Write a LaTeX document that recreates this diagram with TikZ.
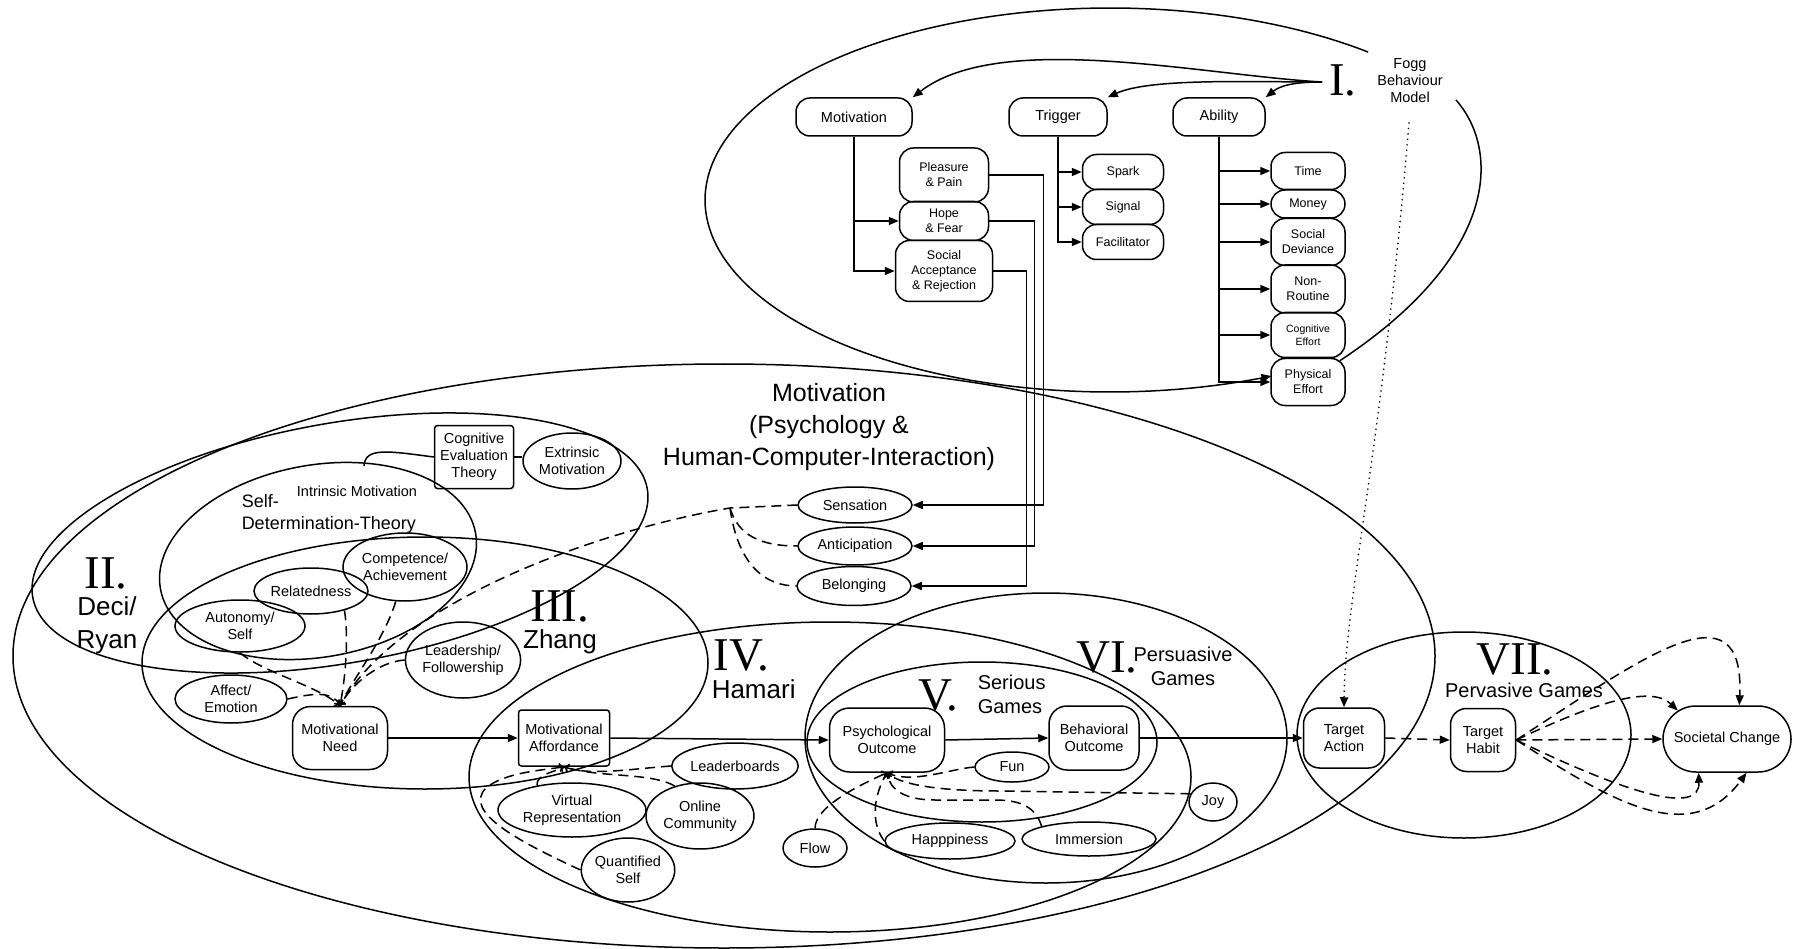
\documentclass[tikz,border=0pt]{standalone}
\usepackage{fontspec}
\setmainfont{Liberation Sans}
\newfontfamily\dgserif{Liberation Serif}
\usetikzlibrary{arrows.meta,shapes.geometric,shapes.misc,calc}
\newcommand\dgnode{\fontsize{14.5}{17}\selectfont}
\newcommand\dgsub{\fontsize{12.5}{15}\selectfont}
\newcommand\dgsmall{\fontsize{10.5}{13}\selectfont}
\newcommand\dglabel{\fontsize{20}{24}\selectfont}
\newcommand\dgmid{\fontsize{18}{22}\selectfont}
\newcommand\dghead{\fontsize{26}{33}\selectfont}
\newcommand\dgtitle{\fontsize{25}{32}\selectfont}
\newcommand\dgnum{\dgserif\fontsize{47}{47}\selectfont}
\begin{document}
\begin{tikzpicture}[x=1pt,y=-1pt,line width=1.5pt,
  fbox/.style={draw,rounded corners=14pt,align=center,inner sep=0pt,font=\dgnode},
  sbox/.style={fbox,font=\dgsub},
  rbox/.style={draw,rounded corners=3pt,align=center,inner sep=0pt,font=\dgnode},
  oval/.style={draw,ellipse,align=center,inner sep=0pt,font=\dgnode},
  numeral/.style={inner sep=0pt,font=\dgnum},
  lbl/.style={inner sep=0pt,align=center},
  arr/.style={-{Triangle[length=10pt,width=8pt]}},
  rarr/.style={{Triangle[length=10pt,width=8pt]}-},
  dline/.style={dash pattern=on 10pt off 6pt},
  dtip/.style={-{To[length=5pt,width=9pt]}},
  dotline/.style={line width=1.8pt,line cap=round,dash pattern=on 0pt off 5.5pt},
]
\useasboundingbox (0,0) rectangle (1793,949);

% ---------- region outlines ----------
\draw (724,656) ellipse [x radius=711pt, y radius=292pt];
\draw[rotate around={10:(340,543)}] (340,543) ellipse [x radius=312pt, y radius=120pt];
\draw[rotate around={10:(318,561)}] (318,561) ellipse [x radius=160pt, y radius=96pt];
\draw (425,663) ellipse [x radius=283pt, y radius=126pt];
\draw (830,777) ellipse [x radius=361pt, y radius=155pt];
\draw (982,742) ellipse [x radius=175pt, y radius=80pt];
\draw (1046,738) ellipse [x radius=241pt, y radius=145pt];
\draw (1464,735) ellipse [x radius=167pt, y radius=103pt];

% ---------- I. Fogg behaviour model ----------
\node[numeral] (n1) at (1343,80) {I.};
\node[lbl,font=\dgnode,anchor=north] (fbm) at (1410,58) {Fogg\\Behaviour\\Model};
\coordinate (fogsrc) at (1322,82);
\node[fbox,minimum width=116pt,minimum height=38pt] (motF) at (854,117) {Motivation};
\node[fbox,minimum width=98pt,minimum height=38pt] (trig) at (1058,117) {Trigger};
\node[fbox,minimum width=92pt,minimum height=38pt] (abil) at (1219,117) {Ability};
\node[sbox,minimum width=89pt,minimum height=54pt] (pleas) at (944,175) {Pleasure\\\& Pain};
\node[sbox,minimum width=89pt,minimum height=39pt] (hope) at (944,221) {Hope\\\& Fear};
\node[sbox,minimum width=97pt,minimum height=61pt] (socacc) at (944,271) {Social\\Acceptance\\\& Rejection};
\node[sbox,minimum width=81pt,minimum height=35pt] (spark) at (1123,172) {Spark};
\node[sbox,minimum width=81pt,minimum height=35pt] (signal) at (1123,207) {Signal};
\node[sbox,minimum width=81pt,minimum height=35pt] (facil) at (1123,242) {Facilitator};
\node[sbox,minimum width=74pt,minimum height=37pt] (time) at (1308,171) {Time};
\node[sbox,minimum width=74pt,minimum height=28pt] (money) at (1308,204) {Money};
\node[sbox,minimum width=74pt,minimum height=47pt] (sdev) at (1308,242) {Social\\Deviance};
\node[sbox,minimum width=74pt,minimum height=48pt] (nonrt) at (1308,289) {Non-\\Routine};
\node[sbox,minimum width=74pt,minimum height=45pt,font=\dgsmall] (cogeff) at (1308,335) {Cognitive\\Effort};
\node[sbox,minimum width=74pt,minimum height=47pt] (physeff) at (1308,382) {Physical\\Effort};

% Fogg outline: open at the top right, both ends running into Physical Effort
\draw[rarr] plot[domain=66.5:309.6,samples=140] ({1110+405*cos(\x)},{200+192*sin(\x)});
\coordinate (foggap) at (1456,100);
\draw (foggap) .. controls (1500,150) and (1500,255) .. ($(physeff.north east)+(-6,3)$);

\draw[arr] (fogsrc) .. controls (1200,75) and (1000,30) .. (motF.north east);
\draw[arr] (fogsrc) .. controls (1250,82) and (1150,78) .. (trig.north east);
\draw[arr] (fogsrc) .. controls (1292,82) and (1280,86) .. (abil.north east);
\draw[arr] (motF.south) |- (hope.west);
\draw[arr] (motF.south) |- (socacc.west);
\foreach \nm in {spark,signal,facil} \draw[arr] (trig.south) |- (\nm.west);
\foreach \nm in {time,money,sdev,nonrt,cogeff,physeff} \draw[arr] (abil.south) |- (\nm.west);

% ---------- Motivation (Psychology & HCI) ----------
\node[lbl,font=\dgtitle,anchor=north] (mottitle) at (829,383) {Motivation\\(Psychology \&\\Human-Computer-Interaction)};
\node[oval,minimum width=114pt,minimum height=36pt] (sens) at (855,505) {Sensation};
\node[oval,minimum width=114pt,minimum height=38pt] (antic) at (855,546) {Anticipation};
\node[oval,minimum width=114pt,minimum height=39pt] (belong) at (854,586) {Belonging};
\draw[arr] (pleas.east) -- ++(54,0) |- (sens.east);
\draw[arr] (hope.east) -- ++(45,0) |- (antic.east);
\draw[arr] (socacc.east) -- ++(33,0) |- (belong.east);

% ---------- II. Deci/Ryan and III. Zhang ----------
\node[numeral] (n2) at (106,573) {II.};
\node[lbl,font=\dghead] (decilbl) at (107,625) {Deci/\\Ryan};
\node[lbl,font=\dgmid,align=left,anchor=north west] (sdtlbl) at (241,494) {Self-\\Determination-Theory};
\node[lbl,font=\dgnode] (intrlbl) at (357,491) {Intrinsic Motivation};
\node[rbox,minimum width=79pt,minimum height=63pt] (cet) at (474,457) {Cognitive\\Evaluation\\Theory};
\node[oval,minimum width=98pt,minimum height=56pt] (ext) at (572,461) {Extrinsic\\Motivation};
\coordinate (sdttop) at (364,466);
\draw (cet.east) -- (cet.east -| ext.west);
\draw (cet.west) .. controls (388,451) and (365,447) .. (sdttop);
\node[oval,minimum width=124pt,minimum height=68pt] (comp) at (405,567) {Competence/\\Achievement};
\node[oval,minimum width=108pt,minimum height=46pt] (rel) at (311,591) {Relatedness};
\node[oval,minimum width=130pt,minimum height=52pt] (auto) at (240,626) {Autonomy/\\Self};
\node[oval,minimum width=112pt,minimum height=48pt] (affect) at (231,699) {Affect/\\Emotion};
\node[oval,minimum width=110pt,minimum height=76pt] (lead) at (463,660) {Leadership/\\Followership};
\node[numeral] (n3) at (560,606) {III.};
\node[lbl,font=\dghead] (zhang) at (560,642) {Zhang};
\node[fbox,rounded corners=18pt,minimum width=95pt,minimum height=63pt] (mneed) at (340,738) {Motivational\\Need};

\draw[dline,dtip] (auto.south) .. controls (262,672) and (318,686) .. (mneed.north);
\draw[dline,dtip] (affect.east) .. controls (310,694) and (332,690) .. (mneed.north);
\draw[dline,dtip] (rel.-30) .. controls (349,640) and (345,680) .. (mneed.north);
\draw[dline,dtip] (comp.-105) .. controls (384,640) and (352,680) .. (mneed.north);
\draw[dline,dtip] (lead.west) .. controls (378,662) and (352,684) .. (mneed.north);
\coordinate (sensfork) at (730,508);
\draw[dline,dtip] (sens.west) -- (sensfork) .. controls (600,530) and (400,600) .. (mneed.north);
\draw[dline] (sensfork) .. controls (738,535) and (760,546) .. (antic.west);
\draw[dline] (sensfork) .. controls (738,565) and (765,586) .. (belong.west);

% ---------- IV. Hamari ----------
\node[numeral,anchor=west] (n4) at (713,655) {IV.};
\node[lbl,font=\dghead,anchor=west] (hamari) at (711,689) {Hamari};
\node[rbox,minimum width=91pt,minimum height=56pt] (maff) at (564,738) {Motivational\\Affordance};
\node[oval,minimum width=124pt,minimum height=46pt] (lboard) at (735,766) {Leaderboards};
\node[oval,minimum width=148pt,minimum height=54pt] (vrep) at (572,810) {Virtual\\Representation};
\node[oval,minimum width=108pt,minimum height=66pt] (ocomm) at (700,816) {Online\\Community};
\node[oval,minimum width=92pt,minimum height=64pt] (qself) at (628,870) {Quantified\\Self};
\draw[arr] (mneed.east) -- (maff.west);
\draw[dline,dtip] (lboard.west) .. controls (630,769) and (590,776) .. (maff.south);
\draw[dline,dtip] (ocomm.130) .. controls (650,772) and (600,778) .. (maff.south);
\draw[dline,dtip] (vrep.145) .. controls (536,774) and (555,772) .. (maff.south);
\draw[dline,dtip] (qself.west) .. controls (520,842) and (462,812) .. (486,788) .. controls (505,772) and (545,770) .. (maff.south);

% ---------- V. Serious Games / VI. Persuasive Games ----------
\node[fbox,rounded corners=20pt,minimum width=115pt,minimum height=64pt] (psyout) at (887,740) {Psychological\\Outcome};
\node[fbox,rounded corners=18pt,minimum width=90pt,minimum height=64pt] (behout) at (1094,738) {Behavioral\\Outcome};
\draw[arr] (maff.east) -- (psyout.west);
\draw[arr] (psyout.east) -- (behout.west);
\node[numeral] (n5) at (938,695) {V.};
\node[lbl,font=\dglabel,align=left,anchor=north west] (serlbl) at (977,674) {Serious\\Games};
\node[numeral] (n6) at (1107,657) {VI.};
\node[lbl,font=\dglabel,anchor=north] (perslbl) at (1183,646) {Persuasive\\Games};
\node[oval,minimum width=74pt,minimum height=30pt] (fun) at (1012,767) {Fun};
\node[oval,minimum width=48pt,minimum height=38pt] (joy) at (1213,802) {Joy};
\node[oval,minimum width=64pt,minimum height=38pt] (flow) at (815,848) {Flow};
\node[oval,minimum width=130pt,minimum height=36pt] (happy) at (950,841) {Happpiness};
\node[oval,minimum width=134pt,minimum height=34pt] (immer) at (1089,839) {Immersion};
\draw[dline,dtip] (fun.west) .. controls (950,769) and (912,784) .. (psyout.south);
\draw[dline,dtip] (joy.160) -- (1000,791) .. controls (935,791) and (900,784) .. (psyout.south);
\draw[dline,dtip] (immer.165) .. controls (1036,808) and (1022,800) .. (995,800) -- (935,800) .. controls (905,800) and (890,790) .. (psyout.south);
\draw[dline,dtip] (happy.west) .. controls (870,822) and (874,795) .. (psyout.south);
\draw[dline,dtip] (flow.north) .. controls (815,806) and (862,784) .. (psyout.south);

% ---------- VII. Pervasive Games ----------
\node[fbox,rounded corners=16pt,minimum width=81pt,minimum height=60pt] (tact) at (1344,738) {Target\\Action};
\node[fbox,rounded corners=16pt,minimum width=65pt,minimum height=63pt] (thab) at (1483,740) {Target\\Habit};
\node[draw,rounded rectangle,inner sep=0pt,font=\dgnode,minimum width=128pt,minimum height=66pt] (socch) at (1727,739) {Societal Change};
\node[numeral] (n7) at (1515,659) {VII.};
\node[lbl,font=\dglabel] (pervlbl) at (1524,690) {Pervasive Games};
\draw[arr] (behout.east) -- (tact.west);
\draw[dline,arr] (tact.east) -- (thab.west);
\draw[dline,arr] (thab.east) -- (socch.west);
\draw[dline,arr] (thab.east) .. controls (1590,705) and (1650,684) .. (socch.150);
\draw[dline,arr] (thab.east) .. controls (1640,660) and (1745,580) .. (socch.70);
\draw[dline,arr] (thab.east) .. controls (1630,795) and (1700,815) .. (socch.-130);
\draw[dline,arr] (thab.east) .. controls (1610,800) and (1690,850) .. (socch.-60);

% Fogg model feeding the target action
\coordinate (dotsrc) at (1409,123);
\draw[dotline,arr] (dotsrc) .. controls (1382,450) and (1345,600) .. (tact.north);
\end{tikzpicture}
\end{document}
